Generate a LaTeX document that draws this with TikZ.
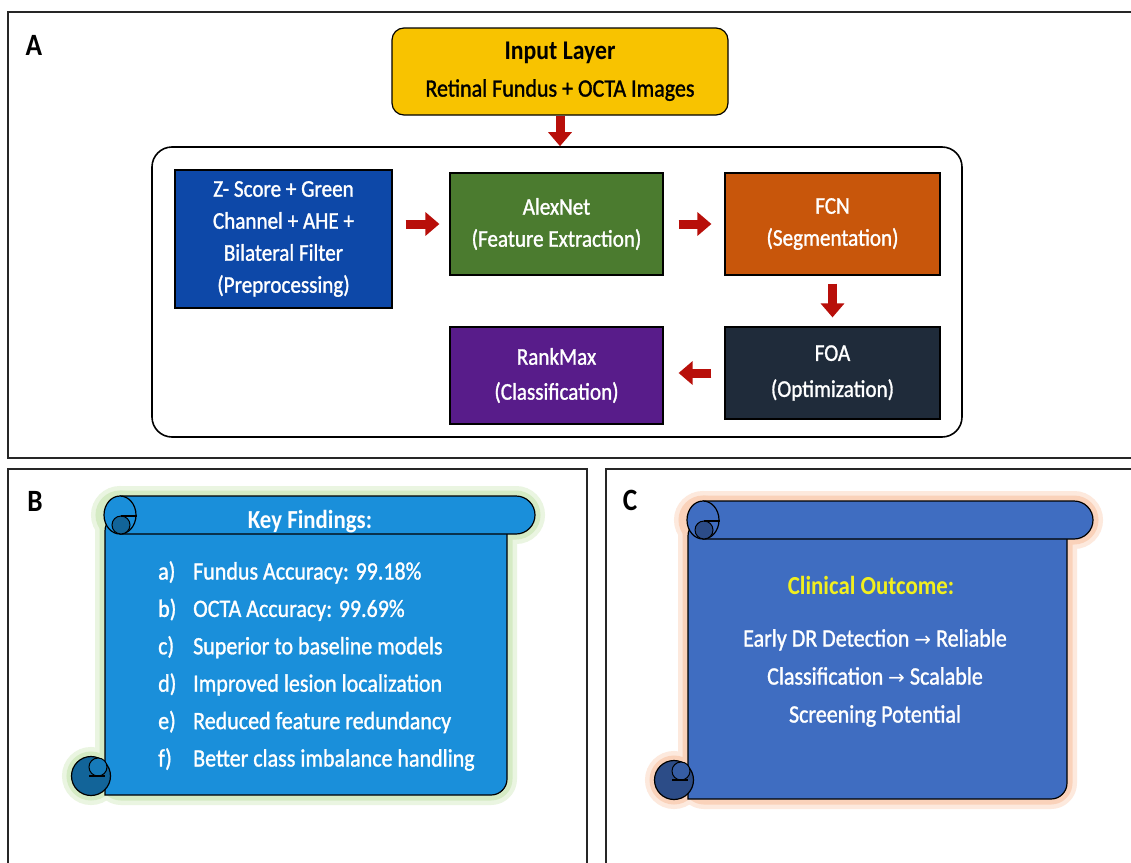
\documentclass[tikz,border=0pt]{standalone}
\usepackage{fontspec}
\setmainfont{Carlito}[FakeStretch=0.88, UprightFeatures={FakeBold=1.2}]
\newfontfamily\arrowfont{DejaVu Sans}
\usetikzlibrary{arrows.meta}

\definecolor{inyellow}{HTML}{F8C300}
\definecolor{preblue}{HTML}{0D48A8}
\definecolor{alexgreen}{HTML}{4B7B2F}
\definecolor{fcnorange}{HTML}{C8560B}
\definecolor{foanavy}{HTML}{1F2B3A}
\definecolor{rankpurple}{HTML}{581C8A}
\definecolor{arrowred}{HTML}{B80F0A}
\definecolor{scrollB}{HTML}{1A8FDA}
\definecolor{scrollC}{HTML}{3F6DC1}
\definecolor{glowB}{HTML}{B9DE9C}
\definecolor{glowC}{HTML}{F7B48C}
\definecolor{outyellow}{HTML}{F2EF1E}

\newcommand{\rarr}{{\arrowfont\fontsize{20}{20}\selectfont →}}

% scroll: #1 left, #2 top, #3 right of sheet, #4 bottom, #5 right of roll, #6 fill, #7 glow
\newcommand{\drawscroll}[7]{%
  \foreach \gw/\gs in {20/30,11/60}{%
    \draw[#7!\gs, line width=\gw pt, line join=round, rounded corners=16pt] (#1,{#2+19}) rectangle (#3,#4);
    \draw[#7!\gs, line width=\gw pt] ({#1+15},{#2+19}) circle (19pt) ({#1-14},{#4-19}) circle (19pt);
    \draw[#7!\gs, line width=\gw pt, rounded corners=19pt] ({#1+15},#2) -- (#5,#2) -- (#5,{#2+38}) -- ({#1+15},{#2+38});
  }
  % sheet
  \filldraw[fill=#6, draw=black, line width=1.2pt] (#1,{#2+19}) -- (#1,#4) [rounded corners=16pt] -- (#3,#4) -- (#3,{#2+19}) -- cycle;
  % bottom roll
  \filldraw[fill=#6!70!black, draw=black, line width=1.2pt] ({#1-14},{#4-19}) circle (19.5pt);
  \filldraw[fill=#6!85!black, draw=black, line width=1pt] ({#1-7},{#4-28}) circle (9pt);
  \draw[line width=1.2pt] ({#1-16},{#4-19}) -- (#1,{#4-19});
  % top roll
  \filldraw[fill=#6, draw=black, line width=1.2pt, rounded corners=19pt] ({#1+15},#2) -- (#5,#2) -- (#5,{#2+38}) -- ({#1+15},{#2+38});
  \filldraw[fill=#6, draw=black, line width=1.2pt] ({#1+15},{#2+19}) ellipse [x radius=16pt, y radius=19pt];
  \filldraw[fill=#6!70!black, draw=black, line width=1pt] ({#1+16},{#2+29}) circle (9pt);
  \draw[line width=1.2pt] ({#1+16},{#2+20}) -- ({#1+32},{#2+20});
}

\begin{document}
\begin{tikzpicture}[x=1pt, y=-1pt,
  box/.style={draw=black, line width=1.2pt, text=white, align=center, inner sep=0pt,
    font=\fontsize{24}{32}\selectfont},
  flow/.style={arrowred, line width=9pt, -{Triangle[length=14pt, width=23pt]}},
  panel/.style={draw=black!85, line width=1.5pt},
  tag/.style={font=\fontsize{31}{31}\selectfont\bfseries},
  item/.style={text=white, anchor=west, inner sep=0pt, text height=0.7em, text depth=0.2em,
    font=\fontsize{25}{30}\selectfont}]
\useasboundingbox (0,0) rectangle (1131,862);
\clip (0,0) rectangle (1131,862);
\fill[white] (0,0) rectangle (1131,862);

% --- panels ---
\draw[panel, line width=2.2pt] (8,12) rectangle (1145,458);
\draw[panel] (8,469) rectangle (587,880);
\draw[panel] (606,469) rectangle (1145,880);
\node[tag] (tagA) at (34,45) {A};
\node[tag] (tagB) at (35,501) {B};
\node[tag] (tagC) at (630,500) {C};

% --- panel A: pipeline ---
\node[box, fill=inyellow, text=black, rounded corners=12pt, minimum width=336pt, minimum height=87pt,
  font=\fontsize{25}{35}\selectfont] (input) at (560,71.5)
  {{\fontsize{27}{35}\selectfont\bfseries Input Layer}\\[2pt]Retinal Fundus + OCTA Images};
\node[draw=black, line width=1.6pt, rounded corners=20pt, minimum width=810pt, minimum height=290pt] (stage) at (557,292) {};

\node[box, fill=preblue, minimum width=217pt, minimum height=138pt] (pre) at (283.5,239)
  {Z- Score + Green\\Channel + AHE +\\Bilateral Filter\\(Preprocessing)};
\node[box, fill=alexgreen, minimum width=213pt, minimum height=102pt] (alex) at (556.5,224)
  {AlexNet\\(Feature Extraction)};
\node[box, fill=fcnorange, minimum width=215pt, minimum height=102pt] (fcn) at (832.5,224)
  {FCN\\(Segmentation)};
\node[box, fill=foanavy, minimum width=215pt, minimum height=92pt, font=\fontsize{24}{36}\selectfont] (foa) at (832.5,373)
  {FOA\\(Optimization)};
\node[box, fill=rankpurple, minimum width=213pt, minimum height=97pt, font=\fontsize{24}{35}\selectfont] (rank) at (556.5,375.5)
  {RankMax\\(Classification)};

\draw[flow] (input.south) -- (input.south |- stage.north);
\draw[flow, shorten <=13pt, shorten >=10pt] (pre.east |- alex) -- (alex.west);
\draw[flow, shorten <=15pt, shorten >=13pt] (alex) -- (fcn);
\draw[flow, shorten <=8pt, shorten >=9pt] (fcn) -- (foa);
\draw[flow, shorten <=13pt, shorten >=15pt] (foa.west) -- (foa.west -| rank.east);

% --- panel B: findings ---
\drawscroll{105}{496}{507}{795}{535}{scrollB}{glowB}
\node[text=white, font=\fontsize{26}{26}\selectfont\bfseries] (keyhead) at (310,522) {Key Findings:};
\foreach \lab/\txt [count=\i] in {a)/Fundus Accuracy: 99.18\%, b)/OCTA Accuracy: 99.69\%,
    c)/Superior to baseline models, d)/Improved lesion localization,
    e)/Reduced feature redundancy, f)/Better class imbalance handling} {
  \node[item] (lab\i) at (158,{577+(\i-1)*37.4}) {\lab};
  \node[item] (find\i) at (193,{577+(\i-1)*37.4}) {\txt};
}

% --- panel C: outcome ---
\drawscroll{688}{501}{1067}{799}{1093}{scrollC}{glowC}
\node[text=outyellow, font=\fontsize{26}{26}\selectfont\bfseries] (outhead) at (871,585) {Clinical Outcome:};
\node[text=white, align=center, font=\fontsize{25}{38}\selectfont] (outtext) at (875,678)
  {Early DR Detection \rarr{} Reliable\\Classification \rarr{} Scalable\\Screening Potential};

\end{tikzpicture}
\end{document}
